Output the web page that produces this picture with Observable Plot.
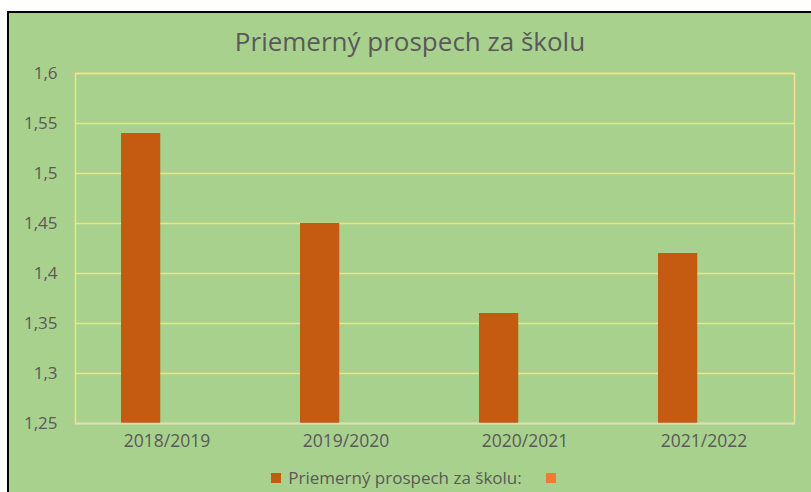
<!DOCTYPE html>
<html>
<head>
<meta charset="utf-8">
<script src="https://cdn.jsdelivr.net/npm/d3@7"></script>
<script src="https://cdn.jsdelivr.net/npm/@observablehq/plot@0.6"></script>
<style>
  html, body { margin: 0; padding: 0; background: #ffffff; width: 811px; height: 492px; overflow: hidden; }
  #frame { position: absolute; left: 7px; top: 11px; width: 802px; height: 479px; border-top: 2px solid #000; border-left: 2px solid #000; background: #a9d18e; font-family: "Open Sans", sans-serif; }
  #title { position: absolute; left: 0; right: 0; top: 13px; text-align: center; font-size: 26px; line-height: 30px; color: #595959; }
  #chart { position: absolute; left: 0; top: 42px; }
  #legend { position: absolute; left: 14px; right: 0; top: 455px; display: flex; justify-content: center; align-items: center; font-size: 17px; line-height: 20px; color: #595959; }
  .sw { display: inline-block; width: 10px; height: 10px; margin-right: 7px; }
</style>
</head>
<body>
<div id="frame">
  <div id="title">Priemerný prospech za školu</div>
  <div id="chart"></div>
  <div id="legend"></div>
</div>
<script>
const years = ["2018/2019", "2019/2020", "2020/2021", "2021/2022"];
const values = [1.54, 1.45, 1.36, 1.42];
const seriesNames = ["Priemerný prospech za školu:", ""];
const seriesColors = ["#c55a11", "#ed7d31"];
const yDomain = [1.25, 1.6];
const yTicks = [1.25, 1.3, 1.35, 1.4, 1.45, 1.5, 1.55, 1.6];

const data = years.map((y, i) => ({year: y, value: values[i]}));
const fmt = d => String(+d.toFixed(2)).replace(".", ",");

const chart = Plot.plot({
  width: 802,
  height: 400,
  marginTop: 18,
  marginBottom: 32,
  marginLeft: 66,
  marginRight: 17,
  style: {background: "transparent", fontFamily: "Open Sans, sans-serif", fontSize: "17px", color: "#595959"},
  x: {domain: years, padding: 0, label: null, tickSize: 0, tickPadding: 11},
  y: {domain: yDomain, ticks: yTicks, tickFormat: fmt, label: null, tickSize: 0, tickPadding: 18},
  marks: [
    Plot.gridY(yTicks, {stroke: "#f2e28c", strokeOpacity: 1, strokeWidth: 1.5}),
    Plot.frame({stroke: "#f2e28c", strokeWidth: 1.5}),
    Plot.barY(data, {x: "year", y1: () => yDomain[0], y2: "value", fill: seriesColors[0], insetLeft: 44, insetRight: 95.75}),
    Plot.ruleY([yDomain[0]], {stroke: "#d9d9d9", strokeWidth: 1.5}),
    Plot.axisX({tickSize: 0, tickPadding: 11, fontSize: 17.5, fill: "#595959"}),
    Plot.axisY({ticks: yTicks, tickFormat: fmt, tickSize: 0, tickPadding: 18, fontSize: 17, fill: "#595959"})
  ]
});
document.getElementById("chart").appendChild(chart);

const legend = document.getElementById("legend");
seriesNames.forEach((name, i) => {
  const item = document.createElement("span");
  item.style.display = "inline-flex";
  item.style.alignItems = "center";
  item.style.marginRight = i === 0 ? "24px" : "0";
  const sw = document.createElement("span");
  sw.className = "sw";
  sw.style.background = seriesColors[i];
  item.appendChild(sw);
  if (name) item.appendChild(document.createTextNode(name));
  legend.appendChild(item);
});
</script>
</body>
</html>
